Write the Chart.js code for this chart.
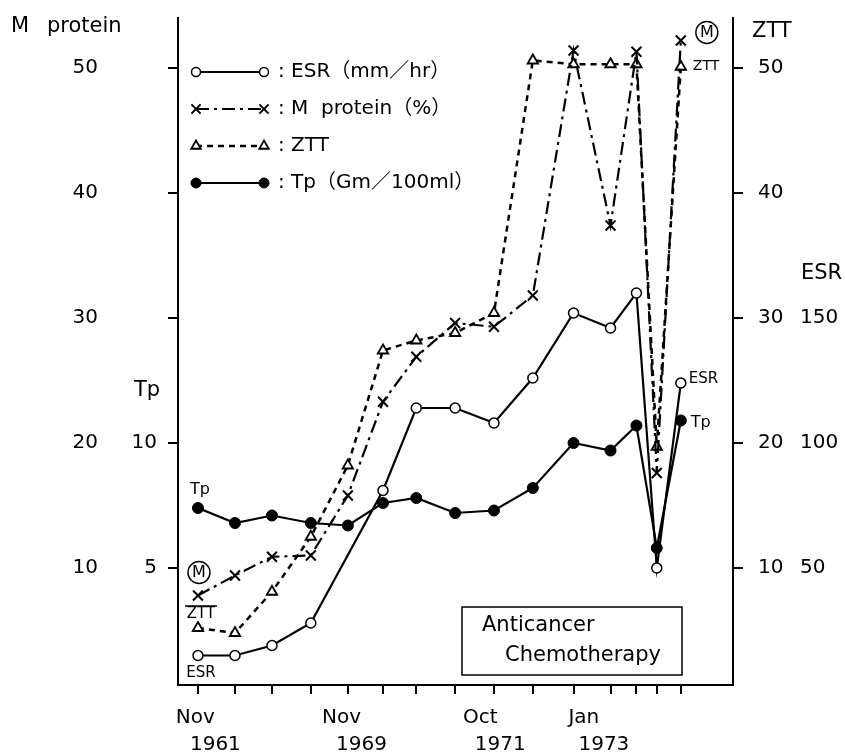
<!DOCTYPE html>
<html>
<head>
<meta charset="utf-8">
<script src="https://cdn.jsdelivr.net/npm/chart.js@4.4.1/dist/chart.umd.min.js"></script>
<style>
html, body { margin: 0; padding: 0; background: #fff; }
</style>
</head>
<body>
<canvas id="chart" width="845" height="755"></canvas>
<script>
// visit positions along the (irregular) time axis
const visits = [0, 1, 2, 3.05, 4.05, 5, 5.9, 6.95, 8, 9.05, 10.15, 11.15, 11.85, 12.4, 13.05];

// series values
const esr = [15, 15, 19, 28, null, 81, 114, 114, 108, 126, 152, 146, 160, 50, 124];
const mProtein = [7.8, 9.4, 10.9, 11.0, 15.8, 23.3, 26.9, 29.6, 29.3, 31.8, 51.4, 37.4, 51.3, 17.6, 52.2];
const ztt = [5.2, 4.8, 8.1, 12.5, 18.2, 27.4, 28.2, 28.8, 30.4, 50.6, 50.3, 50.3, 50.3, 19.7, 50.1];
const tp = [7.4, 6.8, 7.1, 6.8, 6.7, 7.6, 7.8, 7.2, 7.3, 8.2, 10.0, 9.7, 10.7, 5.8, 10.9];

// tick labels
const mTicks = [10, 20, 30, 40, 50];
const tpTicks = [5, 10, 15, 20, 25];
const tpLabelled = [5, 10];
const zttTicks = [10, 20, 30, 40, 50];
const esrTicks = [50, 100, 150];
const dateAt = [0.2, 4.15, 7.9, 10.7];
const dateMonths = ['Nov', 'Nov', 'Oct', 'Jan'];
const dateYears = ['1961', '1969', '1971', '1973'];

const legendTexts = [': ESR（mm／hr）', ': M  protein（%）', ': ZTT', ': Tp（Gm／100ml）'];

const FONT = "'DejaVu Sans', 'Noto Sans CJK JP', sans-serif";
// M protein / ZTT share one scale, Tp is half of it, ESR five times
const baseMin = 0.64, baseMax = 54;

function fixedTicks(values) {
    return scale => { scale.ticks = values.map(v => ({ value: v })); };
}
// fix the axis width and drop the label overhang padding
function fixedWidth(w) {
    return scale => {
        scale.width = w;
        scale.paddingTop = 0;
        scale.paddingBottom = 0;
    };
}
function pts(values) {
    return values.map((v, i) => ({ x: visits[i], y: v }));
}
function drawText(ctx, str, x, y, size, align) {
    ctx.font = size + 'px ' + FONT;
    ctx.textAlign = align || 'left';
    ctx.textBaseline = 'middle';
    ctx.fillText(str, x, y);
}
function circledM(ctx, x, y) {
    ctx.beginPath();
    ctx.lineWidth = 1.4;
    ctx.arc(x, y, 11, 0, Math.PI * 2);
    ctx.stroke();
    drawText(ctx, 'M', x, y + 0.5, 16, 'center');
}

const tickStyle = { color: '#000', font: { family: FONT, size: 20 } };
const axisGrid = { drawOnChartArea: false, tickLength: 10, color: '#000', lineWidth: 2 };
const axisBorder = { display: true, color: '#000', width: 2 };

const annotations = {
    id: 'annotations',
    afterDraw(chart) {
        const { ctx, chartArea, scales } = chart;
        ctx.save();
        ctx.fillStyle = '#000';
        ctx.strokeStyle = '#000';

        // axis titles
        drawText(ctx, 'M', 11, 27, 21);
        drawText(ctx, 'protein', 47, 27, 21);
        drawText(ctx, 'Tp', 134, 391, 21);
        drawText(ctx, 'ZTT', 752, 32, 21);
        drawText(ctx, 'ESR', 801, 274, 21);

        // date labels under the time axis
        dateAt.forEach((v, i) => {
            const px = scales.x.getPixelForValue(v);
            drawText(ctx, dateMonths[i], px - 10, 718, 20, 'center');
            drawText(ctx, dateYears[i], px + 10, 745, 20, 'center');
        });

        // legend inside the plot
        chart.data.datasets.forEach((ds, i) => {
            const y = chartArea.top + 54 + i * 37;
            const x1 = chartArea.left + 18, x2 = chartArea.left + 86;
            ctx.lineWidth = ds.borderWidth;
            ctx.setLineDash(ds.borderDash || []);
            ctx.beginPath();
            ctx.moveTo(x1, y);
            ctx.lineTo(x2, y);
            ctx.stroke();
            ctx.setLineDash([]);
            const opts = { pointStyle: ds.pointStyle, radius: ds.pointRadius - 0.5, rotation: 0, borderWidth: ds.pointBorderWidth };
            ctx.fillStyle = ds.pointBackgroundColor;
            ctx.lineWidth = ds.pointBorderWidth;
            Chart.helpers.drawPoint(ctx, opts, x1, y);
            Chart.helpers.drawPoint(ctx, opts, x2, y);
            ctx.fillStyle = '#000';
            drawText(ctx, legendTexts[i], x2 + 14, y, 20);
        });

        // series labels at the start and end of the lines
        const first = i => chart.getDatasetMeta(i).data[0];
        const last = i => chart.getDatasetMeta(i).data[visits.length - 1];
        drawText(ctx, 'ESR', first(0).x + 3, first(0).y + 18, 15, 'center');
        circledM(ctx, first(1).x + 1, first(1).y - 23);
        drawText(ctx, 'ZTT', first(2).x + 3, first(2).y - 14, 15, 'center');
        ctx.lineWidth = 1.3;
        ctx.beginPath();
        ctx.moveTo(first(2).x - 13, first(2).y - 22);
        ctx.lineTo(first(2).x + 19, first(2).y - 22);
        ctx.stroke();
        drawText(ctx, 'Tp', first(3).x + 2, first(3).y - 18, 16, 'center');

        drawText(ctx, 'ESR', last(0).x + 8, last(0).y - 4, 15);
        circledM(ctx, last(1).x + 26, last(1).y - 8);
        drawText(ctx, 'ZTT', last(2).x + 12, last(2).y, 14);
        drawText(ctx, 'Tp', last(3).x + 10, last(3).y + 2, 16);

        // treatment box
        ctx.lineWidth = 1.5;
        ctx.strokeRect(462, 607, 220, 68);
        drawText(ctx, 'Anticancer', 482, 626, 21);
        drawText(ctx, 'Chemotherapy', 505, 656, 21);
        ctx.restore();
    }
};

new Chart(document.getElementById('chart'), {
    type: 'line',
    data: {
        datasets: [{
            label: 'ESR',
            data: pts(esr),
            yAxisID: 'yESR',
            borderColor: '#000',
            borderWidth: 2.2,
            pointStyle: 'circle',
            pointRadius: 5,
            pointBorderWidth: 1.5,
            pointBorderColor: '#000',
            pointBackgroundColor: '#fff',
            spanGaps: true
        }, {
            label: 'M protein',
            data: pts(mProtein),
            yAxisID: 'yM',
            borderColor: '#000',
            borderWidth: 2.2,
            borderDash: [13, 5, 3, 5],
            pointStyle: 'crossRot',
            pointRadius: 7,
            pointBorderWidth: 2,
            pointBorderColor: '#000',
            pointBackgroundColor: '#000'
        }, {
            label: 'ZTT',
            data: pts(ztt),
            yAxisID: 'yZTT',
            borderColor: '#000',
            borderWidth: 2.5,
            borderDash: [6, 5],
            pointStyle: 'triangle',
            pointRadius: 6,
            pointBorderWidth: 1.8,
            pointBorderColor: '#000',
            pointBackgroundColor: '#fff'
        }, {
            label: 'Tp',
            data: pts(tp),
            yAxisID: 'yTp',
            borderColor: '#000',
            borderWidth: 2.2,
            pointStyle: 'circle',
            pointRadius: 5.5,
            pointBorderWidth: 1,
            pointBorderColor: '#000',
            pointBackgroundColor: '#000'
        }]
    },
    options: {
        responsive: false,
        animation: false,
        devicePixelRatio: 1,
        layout: { padding: { top: 18, left: 0, right: 0, bottom: 0 } },
        plugins: { legend: { display: false }, tooltip: { enabled: false } },
        elements: { line: { tension: 0 } },
        scales: {
            x: {
                type: 'linear', min: -0.54, max: 14.46,
                afterBuildTicks: fixedTicks(visits),
                afterFit: s => { s.height = 70; s.paddingLeft = 0; s.paddingRight = 0; },
                grid: { drawOnChartArea: false, tickLength: 9, color: '#000', lineWidth: 2 },
                border: axisBorder,
                ticks: { display: false }
            },
            yM: {
                position: 'left', weight: 1, min: baseMin, max: baseMax,
                afterBuildTicks: fixedTicks(mTicks),
                afterFit: fixedWidth(120),
                grid: { display: false, drawTicks: false },
                border: { display: false },
                ticks: Object.assign({ padding: 22 }, tickStyle)
            },
            yTp: {
                position: 'left', weight: 0, min: baseMin / 2, max: baseMax / 2,
                afterBuildTicks: fixedTicks(tpTicks),
                afterFit: fixedWidth(58),
                grid: axisGrid,
                border: axisBorder,
                ticks: Object.assign({ padding: 11, callback: v => tpLabelled.includes(v) ? v : '' }, tickStyle)
            },
            yZTT: {
                position: 'right', weight: 0, min: baseMin, max: baseMax,
                afterBuildTicks: fixedTicks(zttTicks),
                afterFit: fixedWidth(57),
                grid: axisGrid,
                border: axisBorder,
                ticks: Object.assign({ padding: 15 }, tickStyle)
            },
            yESR: {
                position: 'right', weight: 1, min: baseMin * 5, max: baseMax * 5,
                afterBuildTicks: fixedTicks(esrTicks),
                afterFit: fixedWidth(55),
                grid: { display: false, drawTicks: false },
                border: { display: false },
                ticks: Object.assign({ padding: 10 }, tickStyle)
            }
        }
    },
    plugins: [annotations]
});
</script>
</body>
</html>
